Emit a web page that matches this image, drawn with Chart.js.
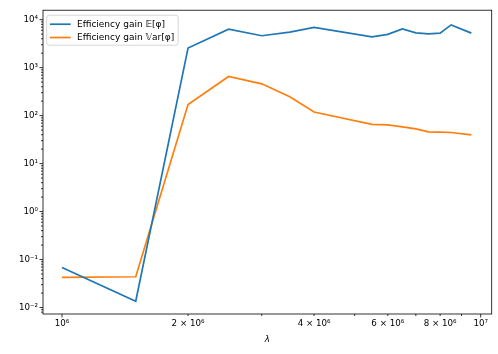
<!DOCTYPE html>
<html><head><meta charset="utf-8">
<script src="https://cdn.jsdelivr.net/npm/chart.js@4/dist/chart.umd.min.js"></script>
<style>html,body{margin:0;padding:0;background:#fff}</style>
</head><body><canvas id="c" width="498" height="354"></canvas>
<script>
const lambdas = [1e6, 1.5e6, 2e6, 2.5e6, 3e6, 3.5e6, 4e6, 5.5e6, 6e6, 6.5e6, 7e6, 7.5e6, 8e6, 8.5e6, 9.5e6];
const gainMean = [0.068, 0.0135, 2560, 6350, 4620, 5500, 6900, 4400, 4930, 6440, 5320, 5080, 5250, 7800, 5250];
const gainVar = [0.0425, 0.0438, 171, 653, 460, 248, 119, 66, 64, 58.3, 53, 46, 45.3, 44.5, 39.8];
const xTickValues = [1e6, 2e6, 4e6, 6e6, 8e6, 1e7];
const xTickLabels = ['10⁶', '2 × 10⁶', '4 × 10⁶', '6 × 10⁶', '8 × 10⁶', '10⁷'];
const yTickValues = [1e-2, 1e-1, 1, 10, 100, 1000, 1e4];
const yTickLabels = ['10⁻²', '10⁻¹', '10⁰', '10¹', '10²', '10³', '10⁴'];
const seriesNames = ['Efficiency gain 𝔼[φ]', 'Efficiency gain 𝕍ar[φ]'];
const seriesColors = ['#1f77b4', '#ff7f0e'];
const xLabel = 'λ';

const FAM = '"DejaVu Sans", sans-serif';
const FS = 8.7;
const LFS = 9;
const X_MIN = Math.pow(10, 5.9546), X_MAX = Math.pow(10, 7.0263);
const Y_MIN = Math.pow(10, -2.135), Y_MAX = Math.pow(10, 4.197);

function logTicks(min, max) {
  const out = [];
  for (let e = Math.floor(Math.log10(min)) - 1; e <= Math.ceil(Math.log10(max)); e++) {
    for (let k = 1; k <= 9; k++) {
      const v = k * Math.pow(10, e);
      if (v >= min * 0.9999 && v <= max * 1.0001) out.push({ v, major: k === 1 });
    }
  }
  return out;
}

const framePlugin = {
  id: 'frame',
  afterDatasetsDraw(chart) {
    const { ctx, chartArea: ca, scales } = chart;
    ctx.save();
    ctx.strokeStyle = '#000';
    ctx.lineWidth = 0.8;
    logTicks(X_MIN, X_MAX).forEach(t => {
      const px = scales.x.getPixelForValue(t.v);
      ctx.beginPath();
      ctx.moveTo(px, ca.bottom);
      ctx.lineTo(px, ca.bottom + (t.major ? 3.5 : 2));
      ctx.stroke();
    });
    logTicks(Y_MIN, Y_MAX).forEach(t => {
      const py = scales.y.getPixelForValue(t.v);
      ctx.beginPath();
      ctx.moveTo(ca.left, py);
      ctx.lineTo(ca.left - (t.major ? 3.5 : 2), py);
      ctx.stroke();
    });
    ctx.strokeRect(ca.left, ca.top, ca.right - ca.left, ca.bottom - ca.top);

    // legend
    ctx.font = LFS + 'px ' + FAM;
    const tw = Math.max(...seriesNames.map(s => ctx.measureText(s).width));
    const bx = ca.left + 3.7, by = ca.top + 5;
    const bw = 30.3 + tw + 4, bh = 30;
    ctx.beginPath();
    if (ctx.roundRect) ctx.roundRect(bx, by, bw, bh, 2.5); else ctx.rect(bx, by, bw, bh);
    ctx.fillStyle = 'rgba(255,255,255,0.8)';
    ctx.fill();
    ctx.strokeStyle = '#cccccc';
    ctx.lineWidth = 0.8;
    ctx.stroke();
    seriesNames.forEach((name, i) => {
      const ry = by + 9 + i * 13.3;
      ctx.beginPath();
      ctx.strokeStyle = seriesColors[i];
      ctx.lineWidth = 1.7;
      ctx.moveTo(bx + 3.3, ry);
      ctx.lineTo(bx + 24, ry);
      ctx.stroke();
      ctx.fillStyle = '#000';
      ctx.textBaseline = 'middle';
      ctx.textAlign = 'left';
      ctx.fillText(name, bx + 30.3, ry);
    });
    ctx.restore();
  }
};

new Chart(document.getElementById('c'), {
  type: 'line',
  data: {
    datasets: [
      { label: seriesNames[0], data: lambdas.map((x, i) => ({ x, y: gainMean[i] })), borderColor: seriesColors[0], backgroundColor: seriesColors[0], borderWidth: 1.7, pointRadius: 0, tension: 0, fill: false },
      { label: seriesNames[1], data: lambdas.map((x, i) => ({ x, y: gainVar[i] })), borderColor: seriesColors[1], backgroundColor: seriesColors[1], borderWidth: 1.7, pointRadius: 0, tension: 0, fill: false }
    ]
  },
  options: {
    responsive: false,
    animation: false,
    devicePixelRatio: 1,
    layout: { padding: { left: 0, top: 8, right: 6.3, bottom: 0 } },
    plugins: { legend: { display: false }, tooltip: { enabled: false } },
    scales: {
      x: {
        type: 'logarithmic', min: X_MIN, max: X_MAX, bounds: 'data',
        grid: { display: false, drawTicks: false }, border: { display: false },
        afterBuildTicks: s => { s.ticks = xTickValues.map(v => ({ value: v })); },
        afterFit: s => { s.height = 40; },
        ticks: { autoSkip: false, maxRotation: 0, minRotation: 0, padding: 5, color: '#000', font: { family: FAM, size: FS },
          callback: (v, i) => xTickLabels[i] },
        title: { display: true, text: xLabel, color: '#000', font: { family: FAM, size: FS, style: 'italic' }, padding: { top: 0, bottom: 8.6 } }
      },
      y: {
        type: 'logarithmic', min: Y_MIN, max: Y_MAX, bounds: 'data',
        grid: { display: false, drawTicks: false }, border: { display: false },
        afterBuildTicks: s => { s.ticks = yTickValues.map(v => ({ value: v })); },
        afterFit: s => { s.width = 43; },
        ticks: { autoSkip: false, padding: 5, color: '#000', font: { family: FAM, size: FS },
          callback: (v, i) => yTickLabels[i] }
      }
    }
  },
  plugins: [framePlugin]
});
</script></body></html>
